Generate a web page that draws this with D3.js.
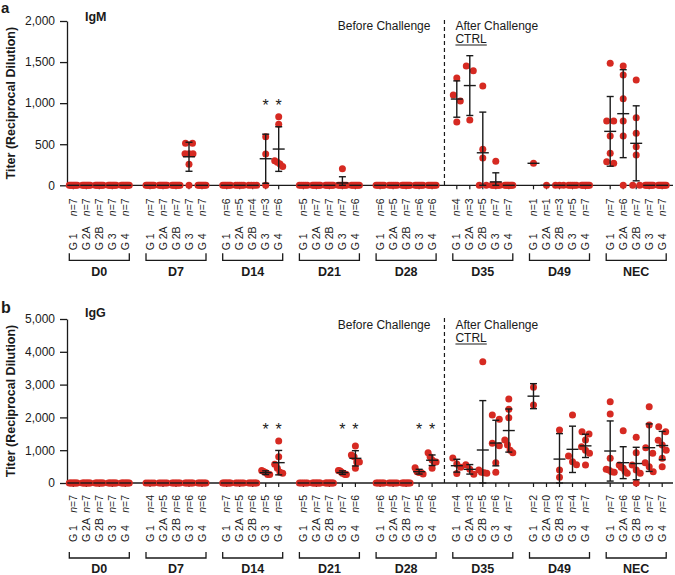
<!DOCTYPE html>
<html>
<head>
<meta charset="utf-8">
<script src="https://cdn.jsdelivr.net/npm/d3@7"></script>
<style>
  body { margin: 0; background: #fff; }
  text { font-family: "Liberation Sans", Arial, sans-serif; fill: #1a1a1a; }
</style>
</head>
<body>
<svg id="chart" width="675" height="575"></svg>
<script>
// Categories
const days = ["D0", "D7", "D14", "D21", "D28", "D35", "D49", "NEC"];
const groups = ["G 1", "G 2A", "G 2B", "G 3", "G 4"];

// IgM titers (reciprocal dilution), one array per day, one list per group
const igmD0  = [[0,0,0,0,0,0,0], [0,0,0,0,0,0,0], [0,0,0,0,0,0,0], [0,0,0,0,0,0,0], [0,0,0,0,0,0,0]];
const igmD7  = [[0,0,0,0,0,0,0], [0,0,0,0,0,0,0], [0,0,0,0,0,0,0], [512,512,384,384,384,256,0], [0,0,0,0,0,0,0]];
const igmD14 = [[0,0,0,0,0,0], [0,0,0,0,0], [0,0,0,0], [590,380,0], [835,742,300,280,260,230]];
const igmD21 = [[0,0,0,0,0], [0,0,0,0,0,0,0], [0,0,0,0,0,0,0], [200,0,0,0,0,0,0], [0,0,0,0,0,0]];
const igmD28 = [[0,0,0,0,0,0], [0,0,0,0,0], [0,0,0,0,0,0,0], [0,0,0,0,0,0], [0,0,0,0,0,0]];
const igmD35 = [[1306,1098,1026,770], [1452,1395,795], [1209,438,332,0,0], [292,0,0,0,0,0,0], [0,0,0,0,0,0,0]];
const igmD49 = [[268], [0], [0,0,0], [0,0,0,0,0], [0,0,0,0,0,0,0]];
const igmNEC = [[1485,783,783,600,389,288,268], [1452,1343,1054,783,600,0], [1282,823,633,470,369,0,0], [0,0,0,0,0,0,0], [0,0,0,0,0,0,0]];

// IgG titers
const iggD0  = [[0,0,0,0,0,0,0], [0,0,0,0,0,0,0], [0,0,0,0,0,0,0], [0,0,0,0,0,0,0], [0,0,0,0,0,0,0]];
const iggD7  = [[0,0,0,0], [0,0,0,0,0], [0,0,0,0,0,0], [0,0,0,0,0,0], [0,0,0,0,0,0]];
const iggD14 = [[0,0,0,0,0,0,0], [0,0,0,0,0], [0,0,0,0,0,0], [384,352,320,256,256], [1280,802,570,448,326,296]];
const iggD21 = [[0,0,0,0,0], [0,0,0,0,0,0,0], [0,0,0,0,0,0,0], [384,375,345,300,300,256,256], [1128,854,802,640,640,448]];
const iggD28 = [[0,0,0,0,0,0], [0,0,0,0,0], [0,0,0,0,0,0,0], [466,345,320,320,274], [924,802,700,649,640,448]];
const iggD35 = [[760,580,480,290], [560,420,270], [3699,396,326,313,296], [2073,1941,1210,1138,620,326], [2561,2247,1991,1311,1159,1000,924]];
const iggD49 = [[2917,2378], [], [1616,396,174], [2073,823,650,560], [1560,1494,1311,1107,1000,905,549]];
const iggNEC = [[2479,2104,753,420,396,345,330], [1595,549,480,448,350,296], [1392,924,550,396,300,0], [2327,1767,1077,905,620,498,345], [1716,1564,1300,1159,1000,753,498]];

const igmData = [igmD0, igmD7, igmD14, igmD21, igmD28, igmD35, igmD49, igmNEC];
const iggData = [iggD0, iggD7, iggD14, iggD21, iggD28, iggD35, iggD49, iggNEC];

// Axis ticks
const igmTicks = [0, 500, 1000, 1500, 2000];
const iggTicks = [0, 1000, 2000, 3000, 4000, 5000];

// Significance marks
const igmStars = [["D14", "G 3"], ["D14", "G 4"]];
const iggStars = [["D14", "G 3"], ["D14", "G 4"], ["D21", "G 3"], ["D21", "G 4"], ["D28", "G 3"], ["D28", "G 4"]];

const svg = d3.select("#chart");
const RED = "#d62a22";
const INK = "#1a1a1a";
const axisX = 67;
const axisRight = 673;
const dotR = 3.5;

const dayX = d3.scalePoint().domain(days).range([73.3, 610.2]);
const groupX = d3.scalePoint().domain(groups).range([0, 52]);
const xPos = (day, grp) => dayX(day) + groupX(grp);
const splitX = (xPos("D28", "G 4") + xPos("D35", "G 1")) / 2;

// spread points that overlap vertically, Prism style
function spread(values, y) {
  const pts = values.map(v => ({ v: v, py: y(v), dx: 0 })).sort((a, b) => a.py - b.py);
  let cluster = [];
  const flush = () => {
    const k = cluster.length;
    const step = k > 1 ? Math.min(7, 8 / (k - 1)) : 0;
    cluster.forEach((p, j) => { p.dx = (j - (k - 1) / 2) * step; });
    cluster = [];
  };
  pts.forEach(p => {
    if (cluster.length && p.py - cluster[cluster.length - 1].py >= 6) flush();
    cluster.push(p);
  });
  flush();
  return pts;
}

function drawPanel(cfg) {
  const g = svg.append("g");
  const y = d3.scaleLinear().domain([0, cfg.max]).range([cfg.y0, cfg.yTop]);

  // panel letter and title
  g.append("text").attr("x", 1).attr("y", cfg.letterY).attr("font-size", cfg.letterSize)
    .attr("font-weight", "bold").text(cfg.letter);
  g.append("text").attr("x", 85).attr("y", cfg.titleY).attr("font-size", 12.5)
    .attr("font-weight", "bold").text(cfg.title);

  // y axis
  const ya = g.append("g").attr("transform", `translate(${axisX},0)`)
    .call(d3.axisLeft(y).tickValues(cfg.ticks).tickFormat(d3.format(","))
      .tickSize(7).tickSizeOuter(0).tickPadding(5));
  ya.select(".domain").attr("stroke", INK).attr("stroke-width", 1.3);
  ya.selectAll(".tick line").attr("stroke", INK).attr("stroke-width", 1.3);
  ya.selectAll(".tick text").attr("font-size", 12).attr("fill", INK)
    .style("font-family", '"Liberation Sans", Arial, sans-serif');

  g.append("text")
    .attr("transform", `translate(15,${(cfg.y0 + cfg.yTop) / 2}) rotate(-90)`)
    .attr("text-anchor", "middle").attr("font-size", 12.5).attr("font-weight", "bold")
    .text("Titer (Reciprocal Dilution)");

  // x axis line
  g.append("line").attr("x1", axisX).attr("x2", axisRight)
    .attr("y1", cfg.y0).attr("y2", cfg.y0)
    .attr("stroke", INK).attr("stroke-width", 1.3);

  // flatten cells
  const cells = [];
  cfg.data.forEach((dayVals, di) => {
    dayVals.forEach((vals, gi) => {
      cells.push({ day: days[di], grp: groups[gi], vals: vals });
    });
  });

  // x ticks and labels
  const tk = g.selectAll(".xt").data(cells).enter().append("g").attr("class", "xt");
  tk.append("line")
    .attr("x1", d => xPos(d.day, d.grp)).attr("x2", d => xPos(d.day, d.grp))
    .attr("y1", cfg.y0).attr("y2", cfg.y0 + 4)
    .attr("stroke", INK).attr("stroke-width", 1.2);
  tk.append("text")
    .attr("transform", d => `translate(${xPos(d.day, d.grp)},${cfg.y0 + cfg.gOff}) rotate(-90)`)
    .attr("dy", "0.35em").attr("text-anchor", "start").attr("font-size", 10.5)
    .text(d => d.grp);
  const nt = tk.append("text")
    .attr("transform", d => `translate(${xPos(d.day, d.grp)},${cfg.y0 + cfg.nOff}) rotate(-90)`)
    .attr("dy", "0.35em").attr("text-anchor", "end").attr("font-size", 10.5);
  nt.append("tspan").attr("font-style", "italic").text("n");
  nt.append("tspan").text(d => "=" + d.vals.length);

  // day brackets
  const br = g.selectAll(".br").data(days).enter().append("g");
  br.append("path")
    .attr("d", d => {
      const x1 = xPos(d, groups[0]) - 4, x2 = xPos(d, groups[groups.length - 1]) + 4;
      return `M${x1},${cfg.y0 + cfg.brTop}V${cfg.y0 + cfg.brBot}H${x2}V${cfg.y0 + cfg.brTop}`;
    })
    .attr("fill", "none").attr("stroke", INK).attr("stroke-width", 1.3);
  br.append("text")
    .attr("x", d => dayX(d) + 26).attr("y", cfg.y0 + cfg.dayOff)
    .attr("text-anchor", "middle").attr("font-size", 12.5).attr("font-weight", "bold")
    .text(d => d);

  // challenge divider
  g.append("line").attr("x1", splitX).attr("x2", splitX)
    .attr("y1", cfg.yTop - 1).attr("y2", cfg.y0)
    .attr("stroke", INK).attr("stroke-width", 1.2).attr("stroke-dasharray", "4,3");
  g.append("text").attr("x", splitX - 14).attr("y", cfg.labelY).attr("text-anchor", "end")
    .attr("font-size", 12).text("Before Challenge");
  g.append("text").attr("x", splitX + 11).attr("y", cfg.labelY)
    .attr("font-size", 12).text("After Challenge");
  const ctrl = g.append("text").attr("x", splitX + 11).attr("y", cfg.labelY + 13.5)
    .attr("font-size", 12).text("CTRL");
  const cw = ctrl.node().getComputedTextLength();
  g.append("line").attr("x1", splitX + 11).attr("x2", splitX + 11 + cw)
    .attr("y1", cfg.labelY + 15.5).attr("y2", cfg.labelY + 15.5)
    .attr("stroke", INK).attr("stroke-width", 1);

  // dots
  cells.forEach(c => {
    const cx = xPos(c.day, c.grp);
    g.append("g").selectAll("circle").data(spread(c.vals, y)).enter().append("circle")
      .attr("cx", p => cx + p.dx).attr("cy", p => p.py).attr("r", dotR)
      .attr("fill", RED);
  });

  // mean +/- SD
  cells.filter(c => c.vals.length > 0).forEach(c => {
    const cx = xPos(c.day, c.grp);
    const m = d3.mean(c.vals);
    const sd = d3.deviation(c.vals);
    const eb = g.append("g").attr("stroke", INK).attr("stroke-width", 1.4);
    if (sd !== undefined && sd > 0) {
      const lo = Math.max(0, m - sd), hi = m + sd;
      eb.append("line").attr("x1", cx).attr("x2", cx).attr("y1", y(lo)).attr("y2", y(hi));
      eb.append("line").attr("x1", cx - 3.5).attr("x2", cx + 3.5).attr("y1", y(hi)).attr("y2", y(hi));
      eb.append("line").attr("x1", cx - 3.5).attr("x2", cx + 3.5).attr("y1", y(lo)).attr("y2", y(lo));
    }
    eb.append("line").attr("x1", cx - 6).attr("x2", cx + 6).attr("y1", y(m)).attr("y2", y(m));
  });

  // significance stars
  g.selectAll(".star").data(cfg.stars).enter().append("text")
    .attr("x", d => xPos(d[0], d[1])).attr("y", cfg.starY)
    .attr("text-anchor", "middle").attr("font-size", 16).text("*");
}

drawPanel({
  letter: "a", letterY: 13, letterSize: 15, title: "IgM", titleY: 21,
  data: igmData, ticks: igmTicks, max: 2000, stars: igmStars,
  y0: 185.3, yTop: 21, labelY: 29.5, starY: 111,
  nOff: 13, gOff: 65, brTop: 68, brBot: 75, dayOff: 90.5
});

drawPanel({
  letter: "b", letterY: 312.5, letterSize: 16, title: "IgG", titleY: 317,
  data: iggData, ticks: iggTicks, max: 5000, stars: iggStars,
  y0: 483, yTop: 319, labelY: 328.5, starY: 435,
  nOff: 12, gOff: 59, brTop: 69, brBot: 75, dayOff: 90
});
</script>
</body>
</html>
